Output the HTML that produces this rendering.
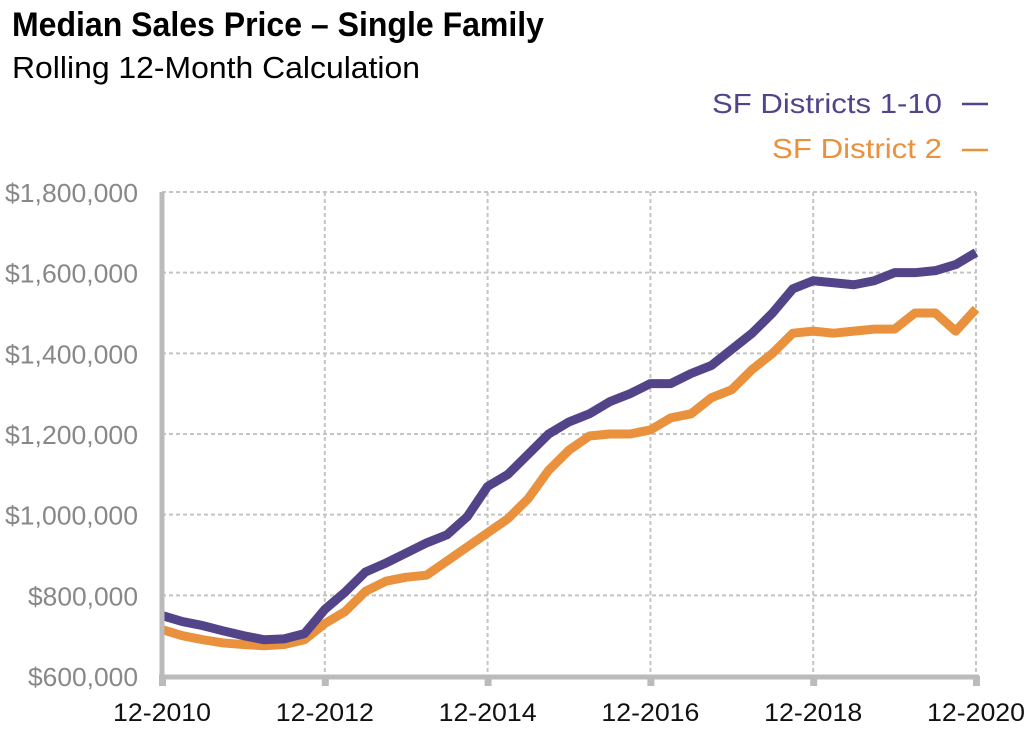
<!DOCTYPE html>
<html><head><meta charset="utf-8"><style>
body{margin:0;background:#fff;width:1032px;height:728px;overflow:hidden;font-family:"Liberation Sans",sans-serif}
</style></head><body>
<svg width="1032" height="728">
<text x="12" y="36" font-size="34" font-weight="bold" fill="#000" textLength="532" lengthAdjust="spacingAndGlyphs">Median Sales Price – Single Family</text>
<text x="12" y="78" font-size="31" fill="#000" textLength="408" lengthAdjust="spacingAndGlyphs">Rolling 12-Month Calculation</text>
<g>
<text x="712" y="113" font-size="28" fill="#53448a" textLength="230" lengthAdjust="spacingAndGlyphs">SF Districts 1-10</text>
<line x1="962" y1="104" x2="988" y2="104" stroke="#53448a" stroke-width="2.5"/>
<text x="772" y="158" font-size="28" fill="#ea913d" textLength="170" lengthAdjust="spacingAndGlyphs">SF District 2</text>
<line x1="962" y1="150" x2="988" y2="150" stroke="#ea913d" stroke-width="2.5"/>
</g>
<g id="grid"></g><g id="lines"></g><g id="axes"></g>
</svg>
<script>
const xLabels=["12-2010","12-2012","12-2014","12-2016","12-2018","12-2020"];
const yTicks=[600000,800000,1000000,1200000,1400000,1600000,1800000];
const sfAll=[750,735,725,712,700,690,692,705,765,808,858,880,905,930,950,995,1070,1100,1150,1200,1230,1250,1280,1300,1325,1325,1350,1370,1410,1450,1500,1560,1580,1575,1570,1580,1600,1600,1605,1620,1650];
const sfD2=[715,700,690,682,678,675,678,690,730,760,810,835,845,850,885,920,955,990,1040,1110,1160,1195,1200,1200,1210,1240,1250,1290,1310,1360,1400,1450,1455,1450,1455,1460,1460,1500,1500,1455,1510];
const NS="http://www.w3.org/2000/svg";
const X0=162,X1=976,Y0=676,Y1=192;
const xs=i=>X0+(X1-X0)*i/40;
const ys=v=>Y0-(v-600000)/1200000*(Y0-Y1);
function mk(t,a,p){const e=document.createElementNS(NS,t);for(const k in a)e.setAttribute(k,a[k]);p.appendChild(e);return e;}
const g=document.getElementById('grid'),L=document.getElementById('lines'),A=document.getElementById('axes');
yTicks.forEach((v,i)=>{
 if(i>0){const l=mk('line',{x1:X0,x2:X1,y1:ys(v),y2:ys(v),stroke:'#c4c4c4','stroke-width':2,'stroke-dasharray':'4 3'},g);
 
 }
 const s='$'+v.toLocaleString('en-US');
 const t=mk('text',{x:138,y:ys(v)+10,'font-size':26,fill:'#888','text-anchor':'end',textLength:s.length>9?133:110,lengthAdjust:'spacingAndGlyphs'},A);
 t.textContent=s;
 
 
});
xLabels.forEach((s,i)=>{
 const x=X0+(X1-X0)*i/5;
 if(i>0){const l=mk('line',{x1:x,x2:x,y1:Y1,y2:Y0,stroke:'#c4c4c4','stroke-width':2,'stroke-dasharray':'4 3'},g);
 
 }
 mk('rect',{x:x-3,y:Y0,width:7,height:10,fill:'#bbb'},A);
 const t=mk('text',{x:x,y:721,'font-size':25,fill:'#111','text-anchor':'middle',textLength:98,lengthAdjust:'spacingAndGlyphs'},A);
 t.textContent=s;
 
 
});
mk('line',{x1:X0,x2:X0,y1:Y1,y2:Y0+3,stroke:'#bbb','stroke-width':5},A);
mk('line',{x1:X0-3,x2:X1+3,y1:Y0+1,y2:Y0+1,stroke:'#bbb','stroke-width':5},A);
function series(arr,col,name){
 const p=mk('polyline',{points:arr.map((v,i)=>xs(i)+','+ys(v*1000)).join(' '),fill:'none',stroke:col,'stroke-width':9,'stroke-linejoin':'round'},L);
 
 
}
series(sfD2,'#ea913d','line-sf-district-2');
series(sfAll,'#53448a','line-sf-districts-1-10');
</script>
</body></html>
